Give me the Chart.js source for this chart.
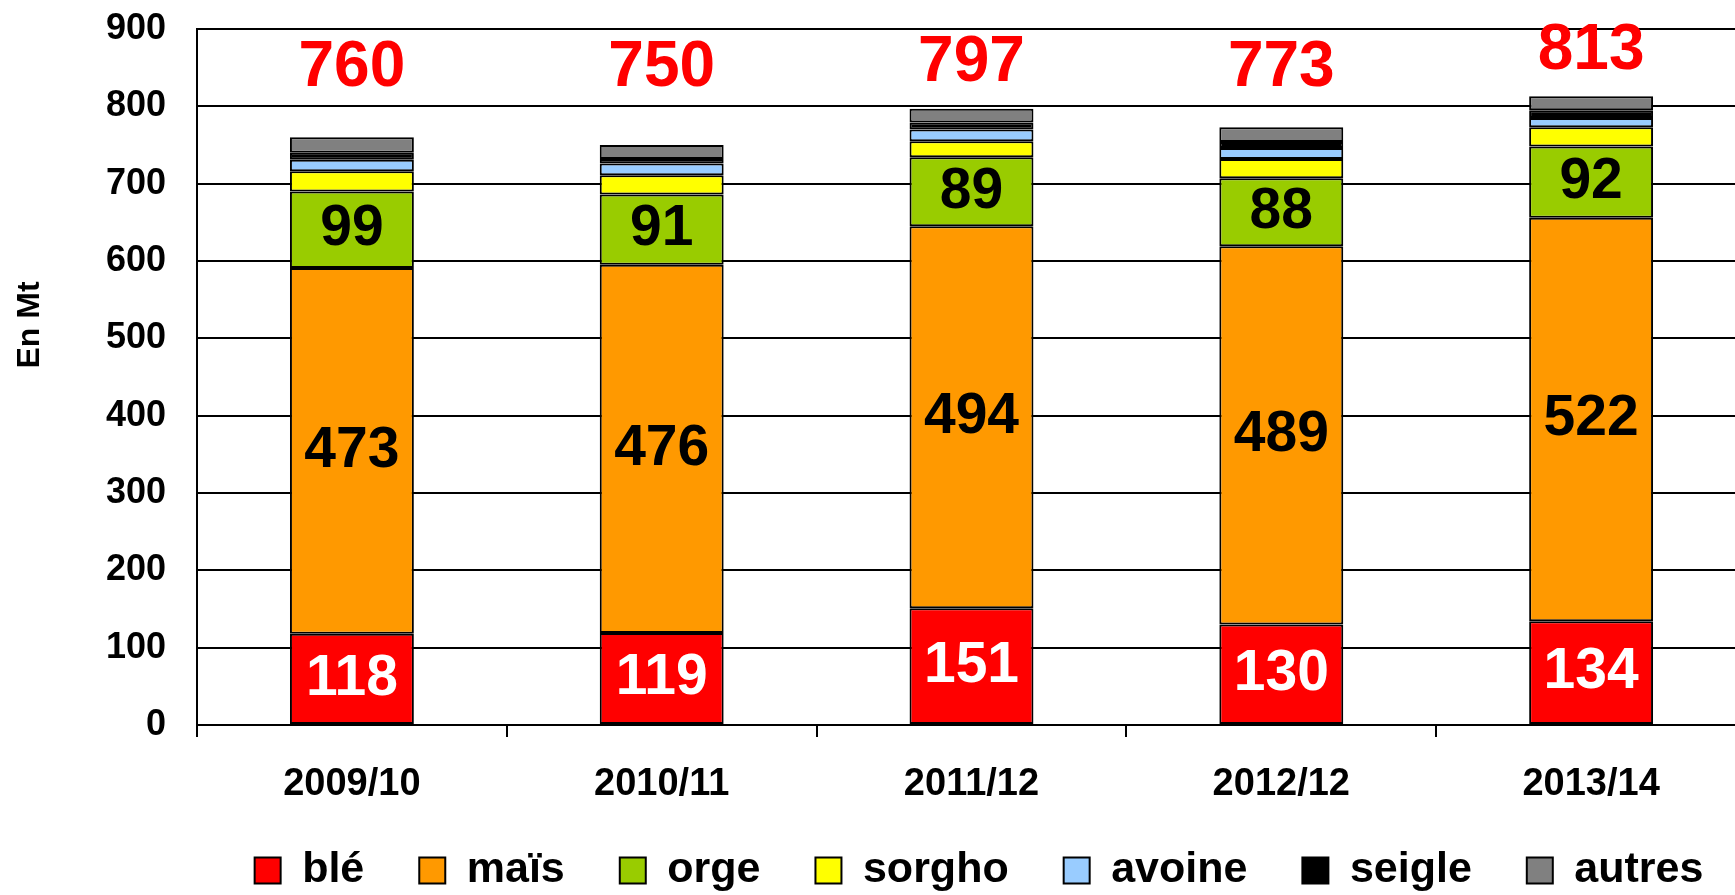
<!DOCTYPE html>
<html>
<head>
<meta charset="utf-8">
<script src="https://cdn.jsdelivr.net/npm/chart.js@4"></script>
<style>
  html, body { margin: 0; padding: 0; background: #fff; overflow: hidden; }
  #contenedor { width: 1750px; height: 895px; }
</style>
</head>
<body>
<div id="contenedor"><canvas id="graficoCereales" width="1750" height="895"></canvas></div>
<script>
// Campagnes
var campagnes = ['2009/10', '2010/11', '2011/12', '2012/12', '2013/14'];

// Production par céréale (Mt)
var ble = [118, 119, 151, 130, 134];
var mais = [473, 476, 494, 489, 522];
var orge = [99, 91, 89, 88, 92];
var sorgho = [26, 25, 21, 25, 25];
var avoine = [15, 15, 15, 14, 12];
var seigle = [9, 6, 9, 8, 10];
var autres = [20, 18, 18, 19, 18];

// Totaux affichés en haut
var totaux = [760, 750, 797, 773, 813];

// Graduations de l'axe vertical
var ticksY = [0, 100, 200, 300, 400, 500, 600, 700, 800, 900];

var fuente = "'Liberation Sans', Arial, sans-serif";

function serie(nom, valeurs, couleur) {
    return {
        label: nom,
        data: valeurs,
        backgroundColor: couleur,
        borderColor: '#000',
        borderWidth: 2,
        borderSkipped: false,
        barPercentage: 0.4,
        categoryPercentage: 1
    };
}

// Etiquettes dans les barres + totaux en rouge
var pluginEtiquettes = {
    id: 'etiquettes',
    beforeLayout: function(chart) {
        // hauteur fixe de la légende
        var leyenda = chart.legend;
        if (leyenda && !leyenda._fijada) {
            var fitOriginal = leyenda.fit;
            leyenda.fit = function() {
                fitOriginal.call(this);
                this.height = 88;
            };
            leyenda._fijada = true;
        }
    },
    afterLayout: function(chart) {
        // décaler la légende comme dans l'original
        var leyenda = chart.legend;
        leyenda.left += 106;
        leyenda.right += 106;
        leyenda.top -= 13;
    },
    afterDatasetsDraw: function(chart) {
        var ctx = chart.ctx;
        var yScale = chart.scales.y;
        var colores = ['#fff', '#000', '#000'];
        ctx.save();
        ctx.textAlign = 'center';
        ctx.textBaseline = 'middle';
        ctx.font = 'bold 57px ' + fuente;
        for (var d = 0; d < 3; d++) {
            var meta = chart.getDatasetMeta(d);
            meta.data.forEach(function(barra, i) {
                ctx.fillStyle = colores[d];
                ctx.fillText(chart.data.datasets[d].data[i], barra.x, (barra.y + barra.base) / 2);
            });
        }
        // totaux
        var metaHaut = chart.getDatasetMeta(chart.data.datasets.length - 1);
        ctx.font = 'bold 64px ' + fuente;
        ctx.fillStyle = '#ff0000';
        metaHaut.data.forEach(function(barra, i) {
            var y = Math.min(yScale.getPixelForValue(849), barra.y - 45);
            ctx.fillText(totaux[i], barra.x, y);
        });
        ctx.restore();
    },
    afterDraw: function(chart) {
        // titre de l'axe vertical
        var ctx = chart.ctx;
        ctx.save();
        ctx.translate(30, 325);
        ctx.rotate(-Math.PI / 2);
        ctx.textAlign = 'center';
        ctx.textBaseline = 'middle';
        ctx.font = 'bold 32px ' + fuente;
        ctx.fillStyle = '#000';
        ctx.fillText('En Mt', 0, 0);
        ctx.restore();
    }
};

var ctx = document.getElementById('graficoCereales').getContext('2d');

new Chart(ctx, {
    type: 'bar',
    data: {
        labels: campagnes,
        datasets: [
            serie('blé', ble, '#ff0000'),
            serie('maïs', mais, '#ff9900'),
            serie('orge', orge, '#99cc00'),
            serie('sorgho', sorgho, '#ffff00'),
            serie('avoine', avoine, '#99ccff'),
            serie('seigle', seigle, '#000000'),
            serie('autres', autres, '#808080')
        ]
    },
    options: {
        responsive: false,
        animation: false,
        layout: { padding: { top: 29, right: 4, left: 0, bottom: 0 } },
        plugins: {
            legend: {
                position: 'bottom',
                labels: {
                    color: '#000',
                    font: { family: fuente, size: 43, weight: 'bold' },
                    boxWidth: 26,
                    boxHeight: 26,
                    padding: 55
                }
            },
            tooltip: { enabled: false }
        },
        scales: {
            x: {
                stacked: true,
                afterFit: function(escala) { escala.height = 82; },
                grid: {
                    offset: true,
                    drawOnChartArea: false,
                    tickLength: 12,
                    color: '#000',
                    lineWidth: 2
                },
                border: { color: '#000', width: 2 },
                ticks: {
                    color: '#000',
                    padding: 25,
                    font: { family: fuente, size: 38, weight: 'bold' }
                }
            },
            y: {
                stacked: true,
                min: 0,
                max: 900,
                afterFit: function(escala) { escala.width = 197; },
                afterBuildTicks: function(escala) {
                    escala.ticks = ticksY.map(function(v) { return { value: v }; });
                },
                grid: {
                    color: '#000',
                    lineWidth: 2,
                    drawTicks: true,
                    tickLength: 31,
                    tickColor: 'rgba(0,0,0,0)'
                },
                border: { color: '#000', width: 2 },
                ticks: {
                    color: '#000',
                    padding: 0,
                    font: { family: fuente, size: 36, weight: 'bold' }
                }
            }
        }
    },
    plugins: [pluginEtiquettes]
});
</script>
</body>
</html>
